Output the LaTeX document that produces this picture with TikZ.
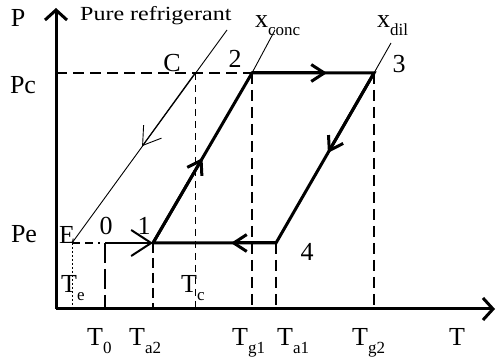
\documentclass[tikz,border=0pt]{standalone}
\usepackage{fontspec}
\setmainfont{Liberation Serif}
\usetikzlibrary{arrows.meta,calc}
\newcommand{\lsub}[1]{\raisebox{-0.28em}{\fontsize{17}{17}\selectfont #1}}
\begin{document}
\begin{tikzpicture}[x=1pt,y=-1pt,
  lbl/.style={font=\fontsize{26}{26}\selectfont, inner sep=0pt},
  axisline/.style={line width=3pt},
  cyc/.style={line width=3pt},
  thinline/.style={line width=0.9pt},
  guide/.style={line width=1.3pt, dash pattern=on 11pt off 6pt},
  fineguide/.style={line width=0.9pt, dash pattern=on 7pt off 5pt},
  barb/.style={-{Straight Barb[length=#1, width=#1*1.3]}}]
\useasboundingbox (0,0) rectangle (496,358);
% key points
\coordinate (O) at (56,309);
\coordinate (Ytop) at (56,8);
\coordinate (Xend) at (495,309);
\coordinate (PcL) at (56,73);
\coordinate (C) at (195,73);
\coordinate (p2) at (252,73);
\coordinate (p3) at (374,73);
\coordinate (E) at (72,243);
\coordinate (p0) at (105,243);
\coordinate (p0d) at (100,243);
\coordinate (p1) at (153,243);
\coordinate (p4) at (276,243);
\coordinate (pureTop) at (227,30);
\coordinate (concTop) at (275,30);
\coordinate (dilTop) at (391,43);
% axis feet
\coordinate (Eb) at (72,309);
\coordinate (Cb) at (195,309);
\coordinate (p0b) at (105,309);
\coordinate (p1b) at (153,309);
\coordinate (p2b) at (252,309);
\coordinate (p4b) at (276,309);
\coordinate (p3b) at (374,309);
% axes
\draw[axisline, -{Straight Barb[length=10pt,width=22pt]}] (O) -- (Ytop);
\draw[axisline, -{Straight Barb[length=10pt,width=22pt]}] (O) -- (Xend);
% guides
\draw[guide] (PcL) -- (p2);
\draw[line width=1.3pt, dash pattern=on 8pt off 5pt] (E) -- (p0d);
\draw[line width=0.9pt, dash pattern=on 2pt off 2pt] (E) -- (Eb);
\draw[fineguide] (C) -- (Cb);
\draw[line width=1.3pt, dash pattern=on 20pt off 6pt] (p0) -- (p0b);
\draw[line width=2.4pt, dash pattern=on 10pt off 5pt] (p1) -- (p1b);
\draw[guide] (p2) -- (p2b);
\draw[guide] (p4) -- (p4b);
\draw[guide] (p3) -- (p3b);
% pure refrigerant and concentration lines
\draw[thinline] (E) -- (pureTop);
\draw[thinline, barb=17pt] (C) -- ($(C)!0.43!(E)$);
\draw[thinline] (p2) -- (concTop);
\draw[thinline] (p3) -- (dilTop);
% cycle
\draw[line width=1.8pt] (p0) -- (p1);
\draw[line width=2pt, barb=20pt] (p0) -- (p1);
\draw[cyc] (p1) -- (p2) -- (p3) -- (p4) -- (p1);
\draw[cyc, barb=13pt] (p1) -- ($(p1)!0.5!(p2)$);
\draw[cyc, barb=13pt] (p2) -- (327,73);
\draw[cyc, barb=13pt] (p3) -- ($(p3)!0.47!(p4)$);
\draw[cyc, barb=13pt] (p4) -- (231,243);
% labels
\node[lbl] (lP) at (18,18) {P};
\node[lbl] (lPc) at (23,85) {Pc};
\node[lbl] (lPe) at (24,234) {Pe};
\node[lbl] (lC) at (172,63) {C};
\node[lbl] (l2) at (235,59) {2};
\node[lbl] (l3) at (399,64) {3};
\node[lbl] (lE) at (67,235) {E};
\node[lbl] (l0) at (106,226) {0};
\node[lbl] (l1) at (144,226) {1};
\node[lbl] (l4) at (307,252) {4};
\node[inner sep=0pt, anchor=base west, font=\fontsize{20}{20}\selectfont] (lpure) at (80,21) {\scalebox{1.2}[1]{Pure refrigerant}};
\node[lbl, anchor=base west] (lconc) at (255,28) {x\lsub{conc}};
\node[lbl, anchor=base west] (ldil) at (377,28) {x\lsub{dil}};
\node[lbl, anchor=base west] (lTe) at (61,293) {T\lsub{e}};
\node[lbl, anchor=base west] (lTc) at (181,293) {T\lsub{c}};
\node[lbl, anchor=base west] (lT0) at (87,346) {T\lsub{0}};
\node[lbl, anchor=base west] (lTa2) at (129,346) {T\lsub{a2}};
\node[lbl, anchor=base west] (lTg1) at (232,346) {T\lsub{g1}};
\node[lbl, anchor=base west] (lTa1) at (277,346) {T\lsub{a1}};
\node[lbl, anchor=base west] (lTg2) at (352,346) {T\lsub{g2}};
\node[lbl, anchor=base west] (lT) at (449,346) {T};
\end{tikzpicture}
\end{document}
